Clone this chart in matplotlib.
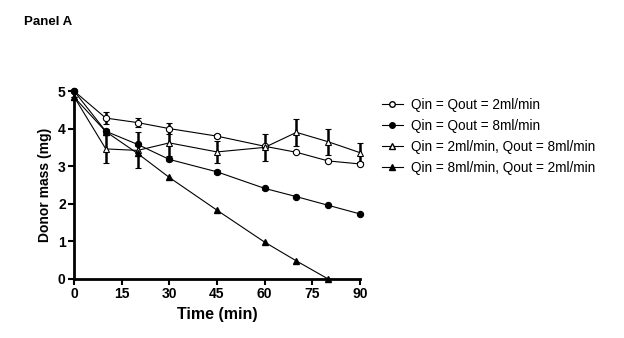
import numpy as np
import matplotlib.pyplot as plt
from matplotlib.lines import Line2D

plt.rcParams['font.family'] = ['Liberation Sans', 'DejaVu Sans']

t = [0, 10, 20, 30, 45, 60, 70, 80, 90]
t_fast = [0, 10, 20, 30, 45, 60, 70, 80]

m_22 = [5.0, 4.28, 4.16, 4.0, 3.80, 3.53, 3.37, 3.14, 3.06]
e_22 = [0, 0.15, 0.12, 0.15, 0.06, 0.04, 0.03, 0.04, 0.04]
m_88 = [5.0, 3.93, 3.58, 3.18, 2.85, 2.41, 2.19, 1.96, 1.73]
e_88 = [0, 0.05, 0.05, 0.04, 0.06, 0.03, 0.03, 0.03, 0.03]
m_28 = [4.85, 3.46, 3.42, 3.62, 3.38, 3.50, 3.90, 3.65, 3.36]
e_28 = [0, 0.38, 0.48, 0.34, 0.30, 0.36, 0.36, 0.34, 0.25]
m_82 = [4.84, 3.92, 3.34, 2.70, 1.83, 0.98, 0.48, 0.0]

labels = ["Qin = Qout = 2ml/min", "Qin = Qout = 8ml/min",
          "Qin = 2ml/min, Qout = 8ml/min", "Qin = 8ml/min, Qout = 2ml/min"]

fig = plt.figure(figsize=(6.24, 3.38), dpi=100)
ax = fig.add_axes([74/624, 1-279/338, 286/624, 188/338])

kw = dict(color='k', lw=0.8, ms=4.5, mew=0.8, ecolor='k', elinewidth=1.8,
          capsize=2.5, capthick=1.5, clip_on=False)
ax.errorbar(t, m_22, yerr=e_22, marker='o', mfc='white', **kw)
ax.errorbar(t, m_88, yerr=e_88, marker='o', mfc='k', **kw)
ax.errorbar(t, m_28, yerr=e_28, marker='^', mfc='white', **kw)
ax.plot(t_fast, m_82, marker='^', mfc='k', color='k', lw=0.8, ms=4.5,
        clip_on=False, zorder=3)

ax.set_xlim(0, 90)
ax.set_ylim(0, 5)
ax.set_xticks([0, 15, 30, 45, 60, 75, 90])
ax.set_yticks([0, 1, 2, 3, 4, 5])
for s in ['top', 'right']:
    ax.spines[s].set_visible(False)
for s in ['left', 'bottom']:
    ax.spines[s].set_linewidth(2)
ax.tick_params(direction='out', length=4, width=1.5, labelsize=10, pad=2)
for lab in ax.get_xticklabels() + ax.get_yticklabels():
    lab.set_fontweight('bold')
ax.set_xlabel("Time (min)", fontsize=11.5, fontweight='bold', labelpad=4)
ax.set_ylabel("Donor mass (mg)", fontsize=10, fontweight='bold', labelpad=4)

handles = [
    Line2D([], [], color='k', lw=0.8, marker='o', mfc='white', ms=4),
    Line2D([], [], color='k', lw=0.8, marker='o', mfc='k', ms=4),
    Line2D([], [], color='k', lw=0.8, marker='^', mfc='white', ms=4),
    Line2D([], [], color='k', lw=0.8, marker='^', mfc='k', ms=4),
]
fig.legend(handles, labels, loc='upper left', bbox_to_anchor=(370/624, 1-86/338),
           frameon=False, fontsize=9.8, handlelength=1.5, handletextpad=0.6,
           labelspacing=0.5)

fig.text(24/624, 1-22/338, "Panel A", fontsize=9.5, fontweight='bold', va='center')

fig.savefig("out.png", dpi=100)
